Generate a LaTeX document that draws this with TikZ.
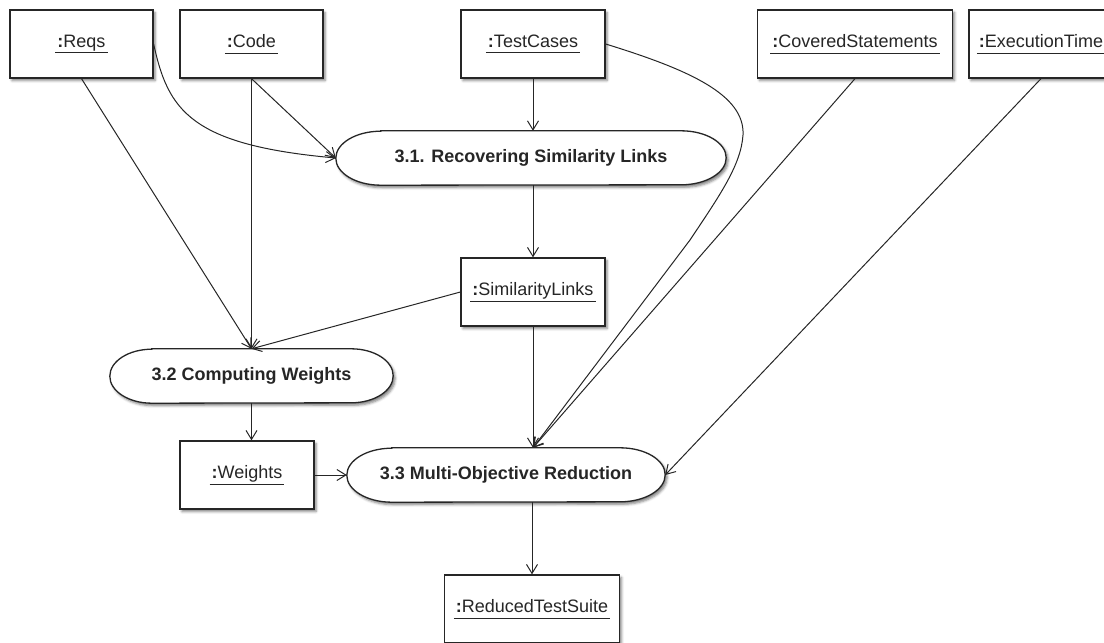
\documentclass[tikz,border=0pt]{standalone}
\usepackage{fontspec}
\setmainfont{Liberation Sans}
\usetikzlibrary{arrows.meta,shadows.blur}
\pgfdeclarelayer{background}
\pgfsetlayers{background,main}
\definecolor{ink}{HTML}{262626}
\tikzset{
  softshadow/.style={blur shadow={shadow xshift=2pt, shadow yshift=-2.5pt,
      shadow blur radius=2.5pt, shadow opacity=50}},
  objbox/.style={draw=ink, line width=1.3pt, fill=white, minimum height=68pt,
      inner sep=0pt, text=ink, font=\fontsize{18}{21}\selectfont, softshadow},
  actbox/.style={minimum height=54pt, inner sep=0pt, text=ink,
      font=\fontsize{18}{21}\selectfont\bfseries},
  actline/.style={draw=ink, line width=1.3pt, fill=white, softshadow},
  flow/.style={draw=ink, line width=1pt,
      -{Straight Barb[length=9pt,width=11pt,line width=1pt]}},
}
% object label: bold colon, plain name, underlined
\newcommand\objlabel[1]{\underline{\kern2pt\textbf{:}#1\kern2pt\vphantom{gy}}}
% UML action outline round a named node: flat top and bottom, elliptic ends
\newcommand\actoutline[2]{%
  \begin{pgfonlayer}{background}
  \draw[actline] ([xshift=#2]#1.north west) -- ([xshift=-#2]#1.north east)
    arc[start angle=90, end angle=-90, x radius=#2, y radius=27pt]
    -- ([xshift=#2]#1.south west)
    arc[start angle=270, end angle=90, x radius=#2, y radius=27pt] -- cycle;
  \end{pgfonlayer}}
\begin{document}
\begin{tikzpicture}[x=1pt, y=-1pt]
\useasboundingbox (0,0) rectangle (1104,643);

% input objects
\node[objbox, minimum width=143pt] (reqs)    at (81.5,44)  {\objlabel{Reqs}};
\node[objbox, minimum width=143pt] (code)    at (251.5,44) {\objlabel{Code}};
\node[objbox, minimum width=144pt] (tests)   at (533,44)   {\objlabel{TestCases}};
\node[objbox, minimum width=195pt] (covered) at (855,44)   {\objlabel{CoveredStatements}};
\node[objbox, minimum width=144pt] (exec)    at (1041,44)  {\objlabel{ExecutionTime}};

% intermediate and output objects
\node[objbox, minimum width=144pt] (simlinks) at (533,292)   {\objlabel{SimilarityLinks}};
\node[objbox, minimum width=134pt] (weights)  at (247,475)   {\objlabel{Weights}};
\node[objbox, minimum width=175pt] (reduced)  at (532,609)   {\objlabel{ReducedTestSuite}};

% actions
\node[actbox, minimum width=390pt] (a31) at (531,158)   {3.1. Recovering Similarity Links};
\node[actbox, minimum width=283pt] (a32) at (251.5,376) {3.2 Computing Weights};
\node[actbox, minimum width=318pt] (a33) at (506,475)   {3.3 Multi-Objective Reduction};
\actoutline{a31}{45pt}
\actoutline{a32}{42pt}
\actoutline{a33}{45pt}

% entry point shared by the flows into 3.3
\coordinate (a33in) at (simlinks.south |- a33.north);

% flows into 3.1
\draw[flow] (reqs.east) .. controls (168,110) and (190,145) .. (a31.west);
\draw[flow] (code.south) -- (a31.west);
\draw[flow] (tests.south) -- (tests.south |- a31.north);

% flows into 3.2
\draw[flow] (reqs.south) -- (a32.north);
\draw[flow] (code.south) -- (a32.north);
\draw[flow] (a31.south -| simlinks.north) -- (simlinks.north);
\draw[flow] (simlinks.west) -- (a32.north);

% flows into 3.3
\draw[flow] (a32.south) -- (a32.south |- weights.north);
\draw[flow] (weights.east) -- (a33.west);
\draw[flow] (simlinks.south) -- (a33in);
\draw[flow] (tests.east) .. controls (690,70) and (745,95) .. (743,135)
  .. controls (741,165) and (720,195) .. (690,240) -- (a33in);
\draw[flow] (covered.south) -- (a33in);
\draw[flow] (exec.south) -- (a33.east);

% result
\draw[flow] (reduced.north |- a33.south) -- (reduced.north);
\end{tikzpicture}
\end{document}
